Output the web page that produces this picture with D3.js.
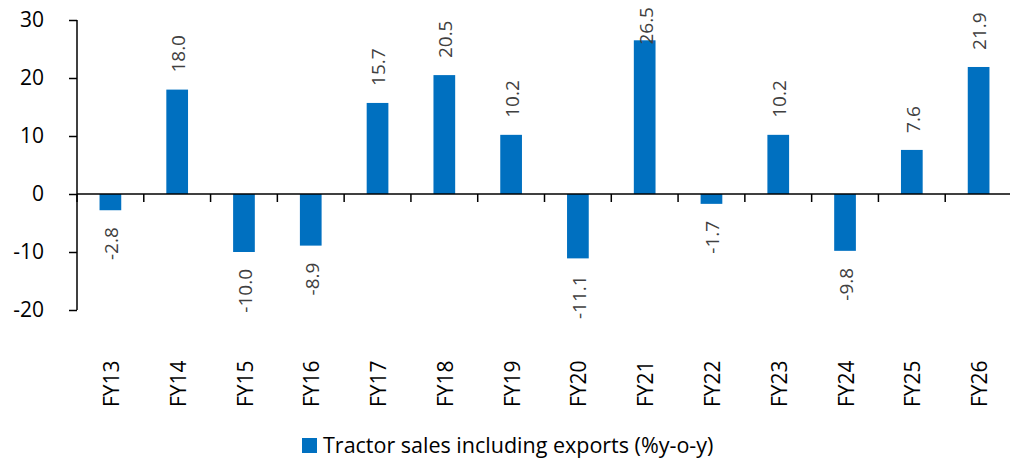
<!DOCTYPE html>
<html><head><meta charset="utf-8">
<script src="https://cdn.jsdelivr.net/npm/d3@7"></script>
<style>body{margin:0;background:#fff}svg{display:block}text{font-family:"Open Sans",sans-serif}</style>
</head><body>
<svg id="c" width="1010" height="459"></svg>
<script>
const categories = ["FY13","FY14","FY15","FY16","FY17","FY18","FY19","FY20","FY21","FY22","FY23","FY24","FY25","FY26"];
const values = [-2.8,18.0,-10.0,-8.9,15.7,20.5,10.2,-11.1,26.5,-1.7,10.2,-9.8,7.6,21.9];
const yTicks = [-20,-10,0,10,20,30];
const seriesName = "Tractor sales including exports (%y-o-y)";

const svg = d3.select("#c");
const x = d3.scaleBand().domain(categories).range([77,1012]).paddingInner(0.675).paddingOuter(0.3375);
const y = d3.scaleLinear().domain([-20,30]).range([310,20]);
const color = "#0070C0";

// y axis
const ya = svg.append("g").attr("transform","translate(77,0)")
  .call(d3.axisLeft(y).tickValues(yTicks).tickSize(8).tickPadding(25).tickFormat(d3.format("d")));
ya.select(".domain").attr("stroke","#000").attr("stroke-width",1.5).attr("d","M0,"+y(-20)+"V"+y(30));
ya.selectAll(".tick line").attr("stroke","#000").attr("stroke-width",1.5);
ya.selectAll(".tick text").attr("font-family","Open Sans").attr("font-size",21).attr("fill","#000")
  .text(d=>String(d));

// bars
svg.append("g").selectAll("rect").data(values).join("rect")
  .attr("x",(d,i)=>x(categories[i]))
  .attr("width",x.bandwidth())
  .attr("y",d=>y(Math.max(0,d)))
  .attr("height",d=>Math.abs(y(d)-y(0)))
  .attr("fill",color);

// x axis line and ticks
const step = x.step();
const bounds = d3.range(categories.length+1).map(i=>x.range()[0]+i*step);
svg.append("line").attr("x1",77).attr("x2",1012).attr("y1",y(0)).attr("y2",y(0)).attr("stroke","#000").attr("stroke-width",1.5);
svg.append("g").selectAll("line").data(bounds).join("line")
  .attr("x1",d=>d).attr("x2",d=>d).attr("y1",y(0)).attr("y2",y(0)+8)
  .attr("stroke","#000").attr("stroke-width",1.5);

// category labels
svg.append("g").selectAll("text").data(categories).join("text")
  .attr("transform",d=>`translate(${x(d)+x.bandwidth()/2+1},407) rotate(-90)`)
  .attr("dy","0.36em").attr("text-anchor","start")
  .attr("font-size",21).attr("fill","#000").text(d=>d);

// data labels
const lab = svg.append("g").selectAll("text").data(values).join("text")
  .attr("dy","0.36em").attr("font-size",19).attr("fill","#404040")
  .text(d=>d.toFixed(1));
lab.each(function(d,i){
  const t = d3.select(this);
  const len = this.getComputedTextLength();
  const cx = x(categories[i])+x.bandwidth()/2+1;
  if(d>=0){
    let endY = y(d)-17;
    if(endY-len<7) endY = 7+len;
    t.attr("text-anchor","start").attr("transform",`translate(${cx},${endY}) rotate(-90)`);
  } else {
    const topY = y(d)+17;
    t.attr("text-anchor","end").attr("transform",`translate(${cx},${topY}) rotate(-90)`);
  }
});

// legend
svg.append("rect").attr("x",302).attr("y",438).attr("width",15).attr("height",15).attr("fill",color);
svg.append("text").attr("x",323).attr("y",453).attr("font-size",21.5).attr("fill","#000").text(seriesName);
</script>
</body></html>
